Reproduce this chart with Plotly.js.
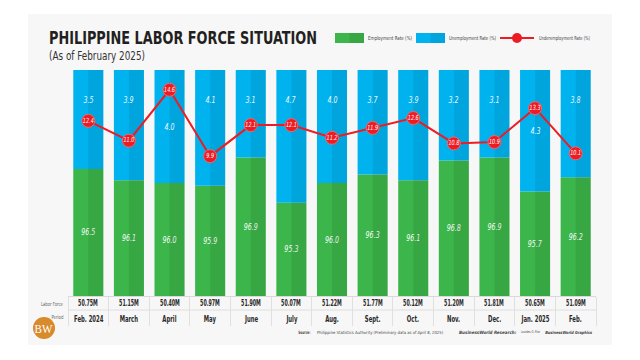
<!DOCTYPE html>
<html>
<head>
<meta charset="utf-8">
<script src="https://cdn.plot.ly/plotly-3.0.1.min.js"></script>
<style>
  html, body { margin: 0; padding: 0; background: #ffffff; }
  #chart { width: 640px; height: 360px; }
</style>
</head>
<body>
<div id="chart"></div>
<script>
// ---- Data ----
const periods = ['Feb. 2024','March','April','May','June','July','Aug.','Sept.','Oct.','Nov.','Dec.','Jan. 2025','Feb.'];
const employment = [96.5, 96.1, 96.0, 95.9, 96.9, 95.3, 96.0, 96.3, 96.1, 96.8, 96.9, 95.7, 96.2];
const unemployment = [3.5, 3.9, 4.0, 4.1, 3.1, 4.7, 4.0, 3.7, 3.9, 3.2, 3.1, 4.3, 3.8];
const underemployment = [12.4, 11.0, 14.6, 9.9, 12.1, 12.1, 11.2, 11.9, 12.6, 10.8, 10.9, 13.3, 10.1];
const laborForce = ['50.75M','51.15M','50.40M','50.97M','51.90M','50.07M','51.22M','51.77M','50.12M','51.20M','51.81M','50.65M','51.09M'];

// ---- Layout helpers ----
const W = 640, H = 360;
const M = { l: 68, r: 44, t: 70, b: 64 };
const PW = W - M.l - M.r, PH = H - M.t - M.b;
const px = x => (x - M.l) / PW;
const py = y => (H - M.b - y) / PH;

const Y_MIN = 92, Y_MAX = 100;
const COND = '"DejaVu Sans Condensed", "DejaVu Sans", sans-serif';
const GREEN = '#3cb54a', BLUE = '#00b3ef', RED = '#ec1c24';
const fmt = v => v.toFixed(1);

const traces = [
  {
    type: 'bar', x: periods, base: Y_MIN, y: employment.map(v => v - Y_MIN),
    width: 0.74, marker: { color: GREEN, line: { width: 0 } },
    text: employment.map(fmt), textposition: 'inside', insidetextanchor: 'middle',
    textangle: 0, constraintext: 'none',
    textfont: { family: COND, size: 9, color: '#ffffff', style: 'italic' },
    hoverinfo: 'skip', showlegend: false
  },
  {
    type: 'bar', x: periods, base: employment, y: unemployment,
    width: 0.74, marker: { color: BLUE, line: { width: 0 } },
    hoverinfo: 'skip', showlegend: false
  },
  {
    // darker right half of each column
    type: 'bar', x: periods, base: Y_MIN,
    y: employment.map((v, i) => v + unemployment[i] - Y_MIN),
    width: 0.37, offset: 0, marker: { color: 'rgba(0,0,0,0.075)', line: { width: 0 } },
    hoverinfo: 'skip', showlegend: false
  },
  {
    type: 'scatter', mode: 'lines+markers+text', x: periods, y: underemployment, yaxis: 'y2',
    line: { color: RED, width: 2 },
    marker: { size: 13, color: RED, line: { color: '#f4666b', width: 1 } },
    text: underemployment.map(fmt), textposition: 'middle center',
    textfont: { family: COND, size: 7, color: '#ffffff', style: 'italic' },
    cliponaxis: false, hoverinfo: 'skip', showlegend: false
  }
];

const annotations = [];
const fits = [];      // per annotation: {f: factor} or {w: width px}
const shapes = [];
function ann(o, fit) {
  o.showarrow = false;
  if (!o.align) o.align = o.xanchor === 'left' ? 'left' : (o.xanchor === 'right' ? 'right' : 'center');
  annotations.push(o); fits.push(fit || null);
}

// panel background
shapes.push({ type: 'rect', xref: 'paper', yref: 'paper', layer: 'below',
  x0: px(28), x1: px(612), y0: py(345), y1: py(14),
  fillcolor: '#f7f7f7', line: { width: 0 } });

// table row separator
shapes.push({ type: 'line', xref: 'paper', yref: 'paper', layer: 'below',
  x0: px(68), x1: px(596), y0: py(310), y1: py(310),
  line: { color: '#dedede', width: 1 } });

// Title
ann({ xref: 'paper', yref: 'paper', x: px(47), y: py(38), xanchor: 'left', yanchor: 'middle',
  text: 'PHILIPPINE LABOR FORCE SITUATION',
  font: { family: COND, size: 17, weight: 'bold', color: '#231f20' } }, { w: 268 });
ann({ xref: 'paper', yref: 'paper', x: px(47), y: py(56), xanchor: 'left', yanchor: 'middle',
  text: '(As of February 2025)',
  font: { family: COND, size: 11.5, color: '#333333' } }, { w: 96 });

// Legend (drawn)
function legendBox(x0, x1, color) {
  const mid = (x0 + x1) / 2;
  shapes.push({ type: 'rect', xref: 'paper', yref: 'paper', x0: px(x0), x1: px(x1), y0: py(43), y1: py(33),
    fillcolor: color, line: { width: 0 } });
  shapes.push({ type: 'rect', xref: 'paper', yref: 'paper', x0: px(mid), x1: px(x1), y0: py(43), y1: py(33),
    fillcolor: 'rgba(0,0,0,0.075)', line: { width: 0 } });
}
legendBox(335, 364, GREEN);
legendBox(416, 445, BLUE);
shapes.push({ type: 'line', xref: 'paper', yref: 'paper', x0: px(500), x1: px(534), y0: py(38), y1: py(38),
  line: { color: RED, width: 2 } });
shapes.push({ type: 'circle', xref: 'paper', yref: 'paper', xsizemode: 'pixel', ysizemode: 'pixel',
  xanchor: px(517), yanchor: py(38), x0: -5, x1: 5, y0: -5, y1: 5,
  fillcolor: RED, line: { width: 0 } });
const legendItems = [['Employment Rate (%)', 366, 44], ['Unemployment Rate (%)', 447, 47], ['Underemployment Rate (%)', 537, 51]];
legendItems.forEach(([t, x, w]) => ann({ xref: 'paper', yref: 'paper', x: px(x), y: py(38),
  xanchor: 'left', yanchor: 'middle', text: t,
  font: { family: COND, size: 5.5, color: '#444444' } }, { w: w }));

// Unemployment labels
periods.forEach((p, i) => {
  const top = employment[i] + unemployment[i];
  const crowded = underemployment[i] > 13;
  ann({ xref: 'x', yref: 'y', x: p,
    y: crowded ? employment[i] + unemployment[i] / 2 : top,
    yshift: crowded ? 0 : -30, yanchor: 'middle', text: fmt(unemployment[i]),
    font: { family: COND, size: 9, color: '#e8f7fe', style: 'italic' } }, { f: 0.78 });
});

// Table rows
periods.forEach((p, i) => {
  ann({ xref: 'x', yref: 'paper', x: p, y: py(303.5), yanchor: 'middle',
    text: laborForce[i], font: { family: COND, size: 8, weight: 'bold', color: '#2a2a2a' } }, { f: 0.66 });
  ann({ xref: 'x', yref: 'paper', x: p, y: py(318), yanchor: 'middle',
    text: p, font: { family: COND, size: 9.5, weight: 'bold', color: '#2a2a2a' } }, { f: 0.62 });
});
ann({ xref: 'paper', yref: 'paper', x: px(65), y: py(304), xanchor: 'right', yanchor: 'middle',
  text: 'Labor Force', font: { family: COND, size: 5.5, color: '#666666' } }, { w: 22 });
ann({ xref: 'paper', yref: 'paper', x: px(65), y: py(317), xanchor: 'right', yanchor: 'middle',
  text: 'Period', font: { family: COND, size: 5.5, color: '#666666' } }, { w: 12 });

// Source line (each style run as its own text)
const SRC = { family: COND, size: 4.5, color: '#444444' };
ann({ xref: 'paper', yref: 'paper', x: px(312.5), y: py(332), xanchor: 'right', yanchor: 'middle',
  text: 'Source:', font: Object.assign({}, SRC, { weight: 'bold' }) }, { w: 12 });
ann({ xref: 'paper', yref: 'paper', x: px(315), y: py(332), xanchor: 'left', yanchor: 'middle',
  text: 'Philippine Statistics Authority (Preliminary data as of April 8, 2025)', font: Object.assign({}, SRC, { size: 4.2 }) }, { w: 132 });
ann({ xref: 'paper', yref: 'paper', x: px(457), y: py(332), xanchor: 'left', yanchor: 'middle',
  text: 'BusinessWorld Research:', font: Object.assign({}, SRC, { weight: 'bold', style: 'italic' }) }, { w: 60 });
ann({ xref: 'paper', yref: 'paper', x: px(519), y: py(332), xanchor: 'left', yanchor: 'middle',
  text: 'Lourdes O. Pilar', font: Object.assign({}, SRC, { size: 3.6 }) }, { w: 19 });
ann({ xref: 'paper', yref: 'paper', x: px(595), y: py(332), xanchor: 'right', yanchor: 'middle',
  text: 'BusinessWorld Graphics', font: Object.assign({}, SRC, { size: 4.2, weight: 'bold', style: 'italic' }) }, { w: 47 });

// BW logo
shapes.push({ type: 'circle', xref: 'paper', yref: 'paper', x0: px(33), x1: px(55), y0: py(339), y1: py(317),
  fillcolor: '#d98a2b', line: { width: 0 } });
ann({ xref: 'paper', yref: 'paper', x: px(44), y: py(328.5), xanchor: 'center', yanchor: 'middle',
  text: 'BW', font: { family: '"Liberation Serif", "DejaVu Serif", serif', size: 13, color: '#ffffff' } }, { f: 0.85 });

const layout = {
  width: W, height: H,
  margin: M,
  paper_bgcolor: '#ffffff', plot_bgcolor: 'rgba(0,0,0,0)',
  barmode: 'overlay', showlegend: false,
  xaxis: {
    type: 'category', range: [-0.5, periods.length - 0.5], fixedrange: true,
    showticklabels: false, showgrid: false, zeroline: false,
    showline: true, linecolor: '#d9d9d9', linewidth: 1,
    ticks: 'outside', tickson: 'boundaries', ticklen: 29, tickcolor: '#e0e0e0', tickwidth: 1
  },
  yaxis: { range: [Y_MIN, Y_MAX], visible: false, fixedrange: true },
  yaxis2: { range: [0, 16], overlaying: 'y', visible: false, fixedrange: true },
  shapes: shapes,
  annotations: annotations
};

// Emulate the condensed typeface by compressing glyphs horizontally (text stays real text).
function squeeze(el, fit) {
  if (!fit || !el) return;
  const L = el.getComputedTextLength();
  if (!(L > 0)) return;
  const target = fit.w ? Math.min(fit.w, L) : L * fit.f;
  el.setAttribute('textLength', target.toFixed(2));
  el.setAttribute('lengthAdjust', 'spacingAndGlyphs');
}

Plotly.newPlot('chart', traces, layout, { staticPlot: true, displayModeBar: false }).then(gd => {
  gd.querySelectorAll('g.annotation').forEach(g => {
    const i = +g.getAttribute('data-index');
    squeeze(g.querySelector('text.annotation-text'), fits[i]);
  });
  gd.querySelectorAll('text.bartext').forEach(t => squeeze(t, { f: 0.78 }));
  gd.querySelectorAll('g.textpoint text').forEach(t => squeeze(t, { f: 0.78 }));
});
</script>
</body>
</html>
